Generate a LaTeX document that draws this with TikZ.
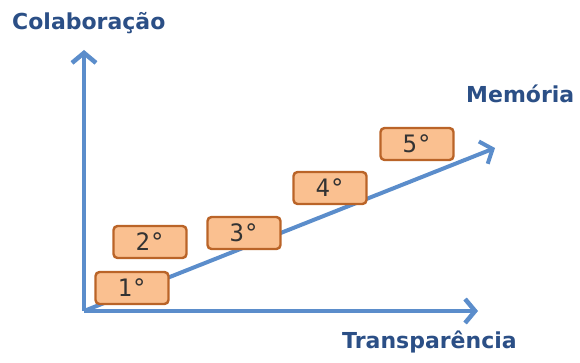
\documentclass[tikz,border=0pt]{standalone}
\usepackage{fontspec}
\usepackage{xcolor}
\usetikzlibrary{arrows.meta}
\newfontfamily\labelfont{DejaVu Sans}
\newfontfamily\digitfont{DejaVu Sans Mono}
\definecolor{axisblue}{HTML}{5B8DCB}
\definecolor{textblue}{HTML}{2B4F86}
\definecolor{boxfill}{HTML}{FAC090}
\definecolor{boxline}{HTML}{BA6428}

\begin{document}
\begin{tikzpicture}[
    x=1pt, y=-1pt,
    box/.style={%
      draw=boxline,
      fill=boxfill,
      line width=2.4pt,
      rounded corners=4pt,
      minimum width=73pt,
      minimum height=32pt,
      inner sep=0pt,
      font=\digitfont\fontsize{24}{24}\selectfont,
      text=black!80,
    },
    axislabel/.style={%
      anchor=base west,
      inner sep=0pt,
      text=textblue,
      font=\labelfont\bfseries\fontsize{22}{22}\selectfont,
    },
    axis/.style={%
      draw=axisblue,
      line width=4.5pt,
      -{Straight Barb[length=10pt,width=24pt]},
    },
  ]
    \useasboundingbox (0,0) rectangle (580,363);

    \coordinate (O) at (84,311);
    \coordinate (Y) at (84,50);
    \coordinate (X) at (478,311);
    \coordinate (Z) at (495,148);

    % eixos
    \draw [axis] (O) -- (Y);
    \draw [axis] (O) -- (X);
    \draw [axis,line width=4pt] (O) -- (Z);

    \node [axislabel] (C) at (12,30) {Colaboração};
    \node [axislabel] (M) at (466,103) {Memória};
    \node [axislabel] (T) at (342,348) {Transparência};

    % etapas
    \node [box] (P1) at (132,288) {1°};
    \node [box] (P2) at (150,242) {2°};
    \node [box] (P3) at (244,233) {3°};
    \node [box] (P4) at (330,188) {4°};
    \node [box] (P5) at (417,144) {5°};
\end{tikzpicture}
\end{document}
